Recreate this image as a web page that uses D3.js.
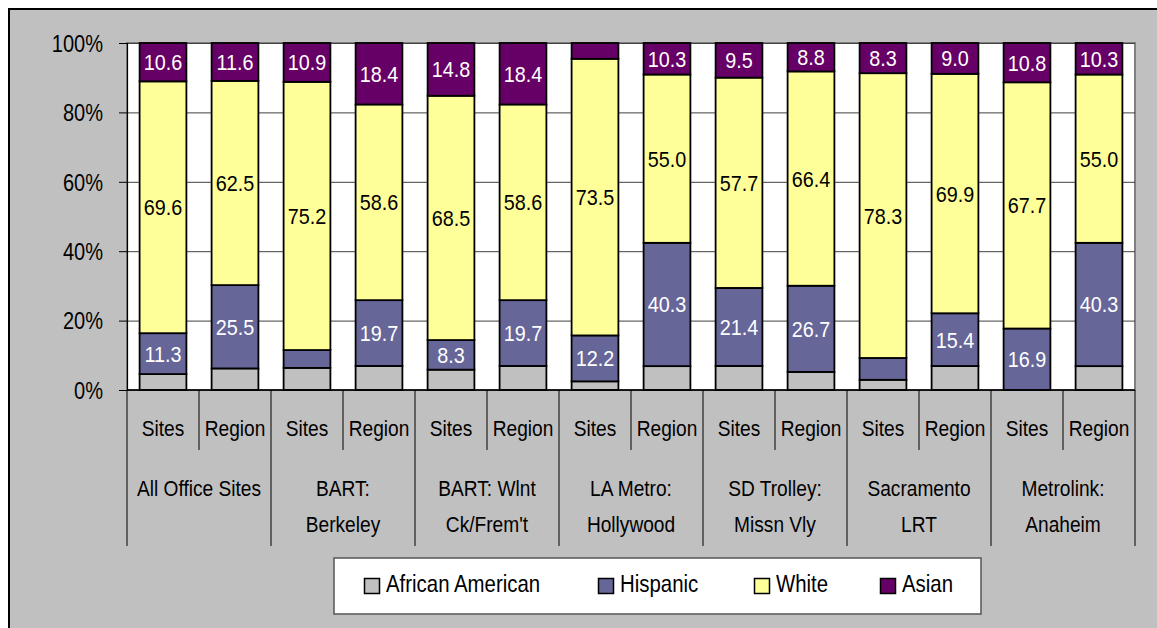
<!DOCTYPE html>
<html>
<head>
<meta charset="utf-8">
<script src="https://cdn.jsdelivr.net/npm/d3@7"></script>
<style>
  body { margin: 0; background: #fff; }
  text { font-family: "Liberation Sans", Arial, sans-serif; fill: #000; }
</style>
</head>
<body>
<svg width="1157" height="628"></svg>
<script>
// bars, two per site (site vs region)
var barNames = ["Sites", "Region", "Sites", "Region", "Sites", "Region", "Sites", "Region",
                "Sites", "Region", "Sites", "Region", "Sites", "Region"];
var groupNames = [["All Office Sites"], ["BART:", "Berkeley"], ["BART: Wlnt", "Ck/Frem't"],
                  ["LA Metro:", "Hollywood"], ["SD Trolley:", "Missn Vly"], ["Sacramento", "LRT"],
                  ["Metrolink:", "Anaheim"]];

// percent values (stacked to 100%)
var africanAmerican = [4.4, 6.6, 6.2, 7.2, 5.7, 7.2, 2.3, 7.8, 6.6, 5.6, 2.8, 7.0, 0, 7.8];
var hispanic = [11.3, 25.5, 5.0, 19.7, 8.3, 19.7, 12.2, 40.3, 21.4, 26.7, 6.0, 15.4, 16.9, 40.3];
var white = [69.6, 62.5, 75.2, 58.6, 68.5, 58.6, 73.5, 55.0, 57.7, 66.4, 78.3, 69.9, 67.7, 55.0];
var asian = [10.6, 11.6, 10.9, 18.4, 14.8, 18.4, 4.2, 10.3, 9.5, 8.8, 8.3, 9.0, 10.8, 10.3];

var seriesNames = ["African American", "Hispanic", "White", "Asian"];
var seriesValues = [africanAmerican, hispanic, white, asian];
var yTicks = [0, 0.2, 0.4, 0.6, 0.8, 1];

var seriesColors = ["#c0c0c0", "#666699", "#ffff99", "#660066"];
var labelColors = [null, "#ffffff", "#000000", "#ffffff"];

var svg = d3.select("svg");
var plotL = 127, plotR = 1135, plotT = 43, plotB = 390;

// chart area
svg.append("rect")
    .attr("x", 9).attr("y", 9)
    .attr("width", 1200).attr("height", 700)
    .attr("fill", "#c0c0c0")
    .attr("stroke", "#000").attr("stroke-width", 2);

svg.append("rect")
    .attr("x", plotL).attr("y", plotT)
    .attr("width", plotR - plotL).attr("height", plotB - plotT)
    .attr("fill", "#fff")
    .attr("stroke", "#808080").attr("stroke-width", 2);

var x = d3.scaleBand()
    .domain(d3.range(barNames.length))
    .range([plotL, plotR])
    .paddingInner(0.35)
    .paddingOuter(0.175);

var y = d3.scaleLinear().domain([0, 1]).range([plotB, plotT]);

// gridlines
svg.append("g")
    .attr("transform", "translate(" + plotL + ",0)")
    .call(d3.axisLeft(y).tickValues(yTicks).tickSize(-(plotR - plotL)).tickFormat(""))
    .call(function(g) {
        g.select(".domain").remove();
        g.selectAll("line").attr("stroke", "#404040").attr("stroke-width", 1);
    });

// stacked data
var rows = barNames.map(function(n, i) {
    var r = { i: i };
    seriesNames.forEach(function(s, k) { r[s] = seriesValues[k][i]; });
    return r;
});

var stack = d3.stack().keys(seriesNames).offset(d3.stackOffsetExpand);
var layers = stack(rows);

var layer = svg.selectAll(".layer")
    .data(layers)
    .enter().append("g")
    .attr("class", "layer")
    .attr("fill", function(d, k) { return seriesColors[k]; });

layer.selectAll("rect")
    .data(function(d) { return d; })
    .enter().append("rect")
    .filter(function(d) { return d[1] - d[0] > 0; })
    .attr("x", function(d) { return x(d.data.i); })
    .attr("width", x.bandwidth())
    .attr("y", function(d) { return y(d[1]); })
    .attr("height", function(d) { return y(d[0]) - y(d[1]); })
    .attr("stroke", "#000")
    .attr("stroke-width", 1.8);

// value labels
layers.forEach(function(L, k) {
    if (!labelColors[k]) return;
    svg.append("g").selectAll("text")
        .data(L.filter(function(d) { return d.data[L.key] >= 8; }))
        .enter().append("text")
        .attr("transform", function(d) {
            return "translate(" + (x(d.data.i) + x.bandwidth() / 2) + "," + (y((d[0] + d[1]) / 2) + 8) + ") scale(0.9,1)";
        })
        .attr("text-anchor", "middle")
        .style("font-size", "22px")
        .style("fill", labelColors[k])
        .text(function(d) { return d3.format(".1f")(d.data[L.key]); });
});

// y axis
svg.append("g")
    .attr("transform", "translate(" + plotL + ",0)")
    .call(d3.axisLeft(y).tickValues(yTicks).tickSize(8).tickFormat(d3.format(".0%")))
    .call(function(g) {
        g.select(".domain").attr("stroke", "#000").attr("stroke-width", 1.2);
        g.selectAll("line").attr("stroke", "#000");
        g.selectAll("text")
            .attr("x", -24 / 0.87)
            .attr("dy", "0.36em")
            .attr("transform", "scale(0.87,1)")
            .style("font-size", "23px")
            .style("font-family", "'Liberation Sans', Arial, sans-serif")
            .attr("fill", "#000");
    });

// x axis line + separators
svg.append("line")
    .attr("x1", plotL).attr("x2", plotR)
    .attr("y1", plotB).attr("y2", plotB)
    .attr("stroke", "#000").attr("stroke-width", 1.6);

var step = x.step();
svg.append("g").selectAll("line")
    .data(d3.range(barNames.length + 1))
    .enter().append("line")
    .attr("x1", function(i) { return plotL + i * step; })
    .attr("x2", function(i) { return plotL + i * step; })
    .attr("y1", plotB)
    .attr("y2", function(i) { return i % 2 === 0 ? 546 : 450; })
    .attr("stroke", "#000").attr("stroke-width", 1);

svg.append("g").selectAll("text")
    .data(barNames)
    .enter().append("text")
    .attr("transform", function(d, i) {
        return "translate(" + (x(i) + x.bandwidth() / 2) + ",436) scale(0.87,1)";
    })
    .attr("text-anchor", "middle")
    .style("font-size", "22px")
    .text(function(d) { return d; });

var groups = svg.append("g").selectAll("g")
    .data(groupNames)
    .enter().append("g");

groups.selectAll("text")
    .data(function(d, gi) { return d.map(function(t, li) { return { t: t, gi: gi, li: li }; }); })
    .enter().append("text")
    .attr("transform", function(d) {
        return "translate(" + (plotL + (d.gi * 2 + 1) * step) + "," + (496 + d.li * 36) + ") scale(0.87,1)";
    })
    .attr("text-anchor", "middle")
    .style("font-size", "22px")
    .text(function(d) { return d.t; });

// legend
var legend = svg.append("g");
legend.append("rect")
    .attr("x", 334).attr("y", 558)
    .attr("width", 647).attr("height", 56)
    .attr("fill", "#fff")
    .attr("stroke", "#555").attr("stroke-width", 1.5);

var legendX = [364, 598, 754, 880];
var item = legend.selectAll(".item")
    .data(seriesNames)
    .enter().append("g")
    .attr("class", "item")
    .attr("transform", function(d, k) { return "translate(" + legendX[k] + ",0)"; });

item.append("rect")
    .attr("x", 0.5).attr("y", 578.5)
    .attr("width", 15).attr("height", 15)
    .attr("fill", function(d, k) { return seriesColors[k]; })
    .attr("stroke", "#000").attr("stroke-width", 1.5);

item.append("text")
    .attr("transform", "translate(22,592) scale(0.85,1)")
    .style("font-size", "24px")
    .text(function(d) { return d; });
</script>
</body>
</html>
